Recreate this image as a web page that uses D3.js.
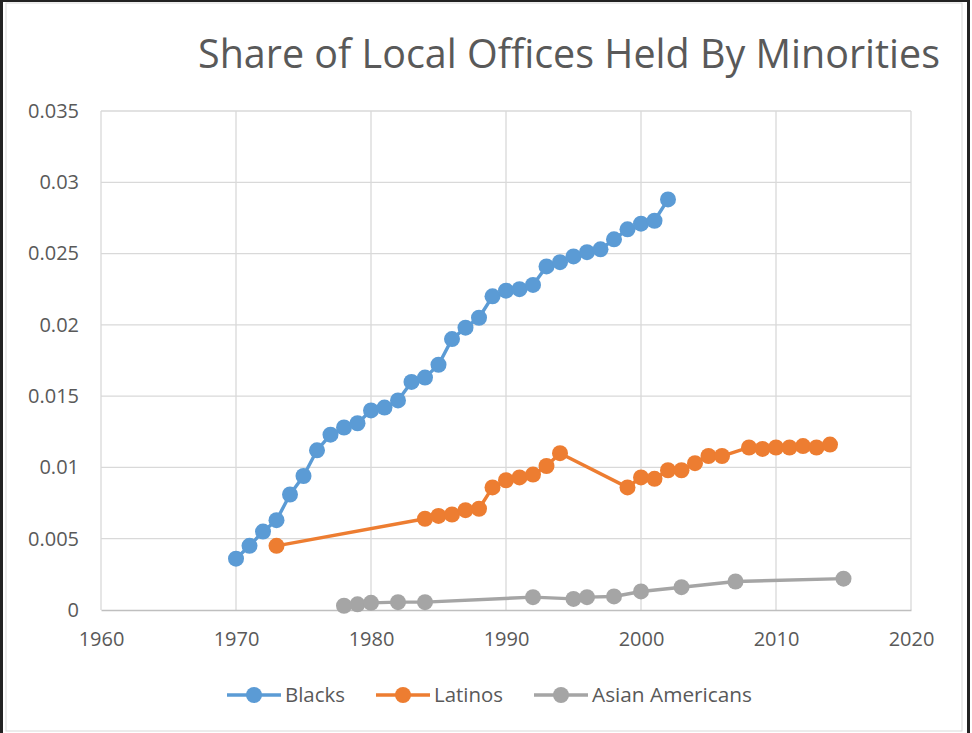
<!DOCTYPE html>
<html>
<head>
<meta charset="utf-8">
<script src="https://cdn.jsdelivr.net/npm/d3@7"></script>
<style>
  body { margin: 0; background: #fff; }
  text { font-family: "Open Sans", sans-serif; fill: #595959; }
</style>
</head>
<body>
<div id="chart-area"></div>
<script>
// data
const blackYears = [1970, 1971, 1972, 1973, 1974, 1975, 1976, 1977, 1978, 1979, 1980, 1981, 1982, 1983, 1984, 1985, 1986, 1987, 1988, 1989, 1990, 1991, 1992, 1993, 1994, 1995, 1996, 1997, 1998, 1999, 2000, 2001, 2002];
const blackValues = [0.0036, 0.0045, 0.0055, 0.0063, 0.0081, 0.0094, 0.0112, 0.0123, 0.0128, 0.0131, 0.0140, 0.0142, 0.0147, 0.0160, 0.0163, 0.0172, 0.0190, 0.0198, 0.0205, 0.0220, 0.0224, 0.0225, 0.0228, 0.0241, 0.0244, 0.0248, 0.0251, 0.0253, 0.0260, 0.0267, 0.0271, 0.0273, 0.0288];

const latinoYears = [1973, 1984, 1985, 1986, 1987, 1988, 1989, 1990, 1991, 1992, 1993, 1994, 1999, 2000, 2001, 2002, 2003, 2004, 2005, 2006, 2008, 2009, 2010, 2011, 2012, 2013, 2014];
const latinoValues = [0.0045, 0.0064, 0.0066, 0.0067, 0.0070, 0.0071, 0.0086, 0.0091, 0.0093, 0.0095, 0.0101, 0.0110, 0.0086, 0.0093, 0.0092, 0.0098, 0.0098, 0.0103, 0.0108, 0.0108, 0.0114, 0.0113, 0.0114, 0.0114, 0.0115, 0.0114, 0.0116];

const asianYears = [1978, 1979, 1980, 1982, 1984, 1992, 1995, 1996, 1998, 2000, 2003, 2007, 2015];
const asianValues = [0.0003, 0.0004, 0.0005, 0.00055, 0.00055, 0.0009, 0.00078, 0.0009, 0.00095, 0.0013, 0.0016, 0.0020, 0.0022];

const seriesNames = ["Blacks", "Latinos", "Asian Americans"];
const colors = ["#5b9bd5", "#ed7d31", "#a5a5a5"];
const xTicks = [1960, 1970, 1980, 1990, 2000, 2010, 2020];
const yTicks = [0, 0.005, 0.01, 0.015, 0.02, 0.025, 0.03, 0.035];

const series = [
    { name: seriesNames[0], color: colors[0], points: blackYears.map((y, i) => ({ year: y, value: blackValues[i] })) },
    { name: seriesNames[1], color: colors[1], points: latinoYears.map((y, i) => ({ year: y, value: latinoValues[i] })) },
    { name: seriesNames[2], color: colors[2], points: asianYears.map((y, i) => ({ year: y, value: asianValues[i] })) }
];

const W = 972, H = 733;

const svg = d3.select("#chart-area").append("svg")
    .attr("width", W)
    .attr("height", H);

// outer frame
svg.append("rect")
    .attr("x", 6).attr("y", 3)
    .attr("width", 956).attr("height", 728)
    .attr("fill", "none")
    .attr("stroke", "#d9d9d9");
svg.append("rect")
    .attr("x", 1.5).attr("y", 0.5)
    .attr("width", 967).attr("height", 740)
    .attr("fill", "none")
    .attr("stroke", "#222")
    .attr("stroke-width", 3);

const x = d3.scaleLinear()
    .domain([1960, 2020])
    .range([101, 911]);

const y = d3.scaleLinear()
    .domain([0, 0.035])
    .range([610, 111]);

// gridlines
svg.append("g")
    .selectAll("line")
    .data(yTicks.slice(1))
    .enter()
    .append("line")
    .attr("x1", x(1960)).attr("x2", x(2020))
    .attr("y1", d => y(d)).attr("y2", d => y(d))
    .attr("stroke", "#d9d9d9")
    .attr("stroke-width", 1.3);

svg.append("g")
    .selectAll("line")
    .data(xTicks)
    .enter()
    .append("line")
    .attr("x1", d => x(d)).attr("x2", d => x(d))
    .attr("y1", y(0)).attr("y2", y(0.035))
    .attr("stroke", "#d9d9d9")
    .attr("stroke-width", 1.3);

// axes (labels only, Excel style)
const xAxis = svg.append("g")
    .attr("transform", `translate(0,${y(0)})`)
    .call(d3.axisBottom(x).tickValues(xTicks).tickFormat(d3.format("d")).tickSize(0).tickPadding(22));
xAxis.select(".domain").attr("stroke", "#bfbfbf").attr("stroke-width", 1.5);
xAxis.selectAll("text").style("font-size", "20px").attr("fill", "#595959");

const yAxis = svg.append("g")
    .attr("transform", `translate(${x(1960)},0)`)
    .call(d3.axisLeft(y).tickValues(yTicks).tickFormat(d => d === 0 ? "0" : d3.format("")(d)).tickSize(0).tickPadding(22));
yAxis.select(".domain").remove();
yAxis.selectAll("text").style("font-size", "20px").attr("fill", "#595959");

// lines and markers
const line = d3.line()
    .x(d => x(d.year))
    .y(d => y(d.value));

series.forEach((s) => {
    svg.append("path")
        .datum(s.points)
        .attr("d", line)
        .attr("fill", "none")
        .attr("stroke", s.color)
        .attr("stroke-width", 3.4)
        .attr("stroke-linejoin", "round");

    svg.append("g")
        .selectAll("circle")
        .data(s.points)
        .enter()
        .append("circle")
        .attr("cx", d => x(d.year))
        .attr("cy", d => y(d.value))
        .attr("r", 8)
        .attr("fill", s.color);
});

// title
svg.append("text")
    .attr("x", 198)
    .attr("y", 68)
    .attr("textLength", 742)
    .attr("lengthAdjust", "spacingAndGlyphs")
    .style("font-size", "40px")
    .text("Share of Local Offices Held By Minorities");

// legend
const legendX = [227, 376, 534];
const legendW = [60, 69, 160];
const legend = svg.append("g")
    .selectAll("g")
    .data(series)
    .enter()
    .append("g")
    .attr("transform", (d, i) => `translate(${legendX[i]},695)`);

legend.append("line")
    .attr("x1", 0).attr("x2", 54)
    .attr("stroke", d => d.color)
    .attr("stroke-width", 3.4);
legend.append("circle")
    .attr("cx", 27)
    .attr("r", 8)
    .attr("fill", d => d.color);
legend.append("text")
    .attr("x", 58)
    .attr("dy", "0.35em")
    .attr("textLength", (d, i) => legendW[i])
    .attr("lengthAdjust", "spacingAndGlyphs")
    .style("font-size", "20.5px")
    .text(d => d.name);
</script>
</body>
</html>
